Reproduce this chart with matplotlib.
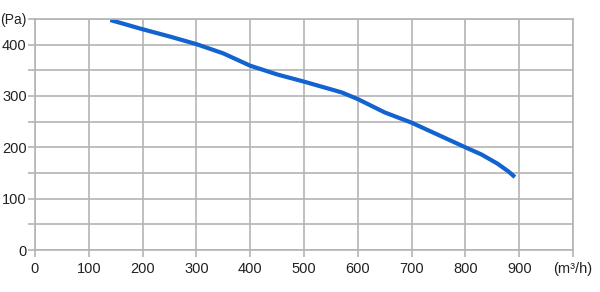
import matplotlib.pyplot as plt

# curve
airflow = [140, 200, 250, 300, 350, 400, 450, 500, 570, 600, 650, 700, 750, 800, 830, 860, 880, 892]
pressure = [448, 430, 416, 401, 383, 359, 342, 328, 307, 294, 268, 248, 224, 200, 186, 168, 153, 142]

x_ticks = [0, 100, 200, 300, 400, 500, 600, 700, 800, 900, 1000]
x_labels = ['0', '100', '200', '300', '400', '500', '600', '700', '800', '900', '(m³/h)']
y_ticks = [0, 50, 100, 150, 200, 250, 300, 350, 400, 450]
y_labels = ['0', '', '100', '', '200', '', '300', '', '400', '(Pa)']

plt.rcParams['font.family'] = ['Liberation Sans', 'DejaVu Sans']

fig = plt.figure(figsize=(6, 2.92), dpi=100)
ax = fig.add_axes([0.0583, 0.1438, 0.8967, 0.7912])

grid_col = '#b4b4b4'
ax.set_xlim(0, 1000)
ax.set_ylim(0, 450)
ax.set_xticks(x_ticks)
ax.set_xticklabels(x_labels)
ax.set_yticks(y_ticks)
ax.set_yticklabels(y_labels)
ax.grid(True, color=grid_col, linewidth=1.2)
ax.set_axisbelow(True)
for s in ax.spines.values():
    s.set_color(grid_col)
    s.set_linewidth(1.2)
ax.tick_params(colors=grid_col, labelcolor='#222222', labelsize=10.5, length=5, width=1.2)
ax.tick_params(axis='y', pad=1)
# the top label is wider, keep it inside the canvas
ax.get_yticklabels()[-1].set_fontsize(10)

ax.plot(airflow, pressure, color='#1262d0', linewidth=3, solid_capstyle='butt')

plt.savefig('out.png')
